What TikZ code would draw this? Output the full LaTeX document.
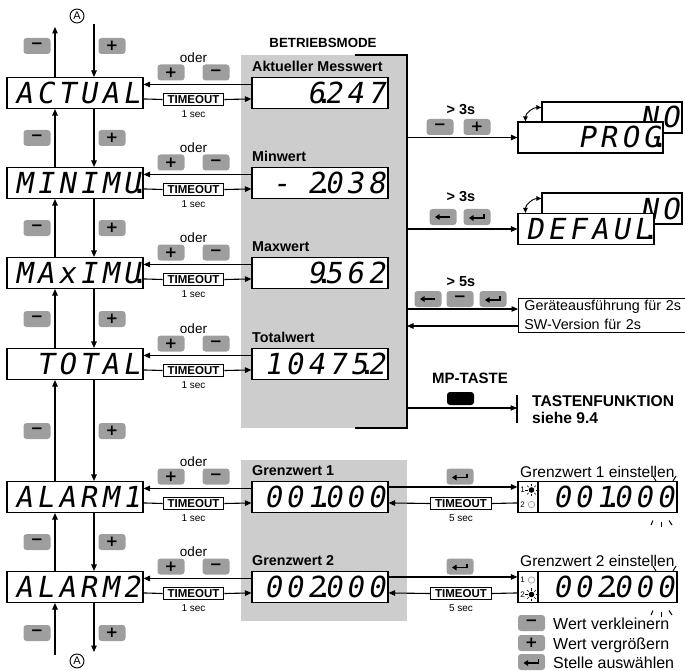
\documentclass[tikz,border=0pt]{standalone}
\usepackage{fontspec}
\setmainfont{Liberation Sans}
\newfontfamily\segfont[LetterSpace=14,FakeSlant=0.18]{DejaVu Sans Mono}
\newfontfamily\symfont{DejaVu Sans}
\usetikzlibrary{arrows.meta}
\definecolor{bggray}{RGB}{205,205,205}
\definecolor{btngray}{RGB}{158,158,158}
\definecolor{ledgray}{RGB}{165,165,165}
\newcommand\segfs{\segfont\fontsize{29}{29}\selectfont}
\newcommand\sdot{\makebox[0pt][c]{\normalfont\bfseries\fontsize{28}{28}\selectfont\kern-1pt.}}
\tikzset{
 arr/.style={line width=1.1pt,-{Triangle[length=6.5pt,width=5.5pt]}},
 conn/.style={line width=1.1pt},
 disp/.style={draw,fill=white,line width=1.1pt,minimum height=31pt,text width=#1,align=right,
   inner xsep=3pt,inner ysep=0pt,text height=21pt,text depth=0pt,font=\segfs},
 disp/.default=130pt,
 btn/.style={fill=btngray,rounded corners=3pt,minimum width=27pt,minimum height=16pt,inner sep=0pt,
   font=\symfont\bfseries\fontsize{15}{15}\selectfont},
 kleft/.style={btn,path picture={
   \draw[line width=1.5pt,-{Triangle[length=4.5pt,width=5.5pt]}]
     ([xshift=7pt]path picture bounding box.center) -- ([xshift=-8pt]path picture bounding box.center);}},
 kenter/.style={btn,path picture={
   \draw[line width=1.5pt,-{Triangle[length=4.5pt,width=5.5pt]}]
     ([xshift=7pt,yshift=-1pt]path picture bounding box.center) -- ([xshift=-8pt,yshift=-1pt]path picture bounding box.center);
   \draw[line width=1.5pt]
     ([xshift=7pt,yshift=-1.75pt]path picture bounding box.center) -- ([xshift=7pt,yshift=3pt]path picture bounding box.center);}},
 tobox/.style={draw,fill=white,line width=0.9pt,inner xsep=4.5pt,inner ysep=1.5pt,
   font=\bfseries\fontsize{11.5}{11.5}\selectfont},
 small/.style={inner sep=0pt,font=\fontsize{10}{10}\selectfont},
 oder/.style={inner sep=0pt,font=\fontsize{13.5}{13.5}\selectfont},
 lbl/.style={anchor=base west,inner sep=0pt,font=\bfseries\fontsize{14.3}{14.3}\selectfont},
 bold/.style={inner sep=0pt,font=\bfseries\fontsize{14.5}{14.5}\selectfont},
 reg/.style={anchor=base west,inner sep=0pt,font=\fontsize{15.5}{15.5}\selectfont},
 leg/.style={anchor=base west,inner sep=0pt,font=\fontsize{16}{16}\selectfont},
 circA/.style={draw,circle,line width=0.9pt,minimum size=14pt,inner sep=0pt,font=\fontsize{11}{11}\selectfont},
 ledbox/.style={draw,fill=white,line width=1.1pt,minimum width=20pt,minimum height=31pt,inner sep=0pt},
 tiny/.style={inner sep=0pt,font=\fontsize{8}{8}\selectfont},
 tick/.style={line width=1pt}
}
\begin{document}
\begin{tikzpicture}[x=1pt,y=-1pt]
\useasboundingbox (0,0) rectangle (685,671);
\clip (0,0) rectangle (685,671);
% grey regions
\fill[bggray] (241,55) rectangle (407,428);
\fill[bggray] (241,460) rectangle (407,621);
\draw[line width=1.7pt] (355,55) -- (407,55) -- (407,428) -- (355,428);
\node[inner sep=0pt,font=\bfseries\fontsize{13.3}{13.3}\selectfont] (bm) at (323,43) {BETRIEBSMODE};
% left displays
\node[disp] (L1) at (75,93) {ACTUAL};
\node[disp] (L2) at (75,183) {MINIMU\sdot};
\node[disp] (L3) at (75,273) {MAxIMU\sdot};
\node[disp] (L4) at (75,364) {TOTAL};
\node[disp] (L5) at (75,497) {ALARM1};
\node[disp] (L6) at (75,587) {ALARM2};
% right displays
\node[disp] (R1) at (320,93) {6\sdot247};
\node[disp] (R2) at (320,183) {-\hphantom{0}2\sdot038};
\node[disp] (R3) at (320,273) {9\sdot562};
\node[disp] (R4) at (320,364) {10475\sdot2};
\node[disp] (R5) at (320,497) {001\sdot000};
\node[disp] (R6) at (320,587) {002\sdot000};
% labels
\node[lbl] (t1) at (252,71.5) {Aktueller Messwert};
\node[lbl] (t2) at (252,161.5) {Minwert};
\node[lbl] (t3) at (252,251.5) {Maxwert};
\node[lbl] (t4) at (252,342.5) {Totalwert};
\node[lbl] (t5) at (252,475.5) {Grenzwert 1};
\node[lbl] (t6) at (252,565.5) {Grenzwert 2};
% per-row connectors
\foreach \n/\y in {1/93,2/183,3/273,4/364,5/497,6/587} {
  \node[tobox] (T\n) at (193.5,\y+6.5) {TIMEOUT};
  \node[small] (S\n) at (193.5,\y+21.5) {1 sec};
  \node[oder] (O\n) at (193.5,\y-35.5) {oder};
  \node[btn] (bp\n) at (171,\y-20.5) {+};
  \node[btn] (bm\n) at (216,\y-20.5) {−};
  \draw[arr] ([yshift=-7.5pt]R\n.north west) -- ([yshift=-7.5pt]L\n.north east);
  \draw[conn] ([yshift=-22pt]L\n.north east) -- (T\n.west);
  \draw[arr] (T\n.east) -- ([yshift=-22pt]R\n.north west);
}
% vertical navigation
\foreach \a/\b in {2/1,3/2,4/3,5/4,6/5} {
  \draw[arr] ([xshift=-20pt]L\a.north) -- ([xshift=-20pt]L\b.south);
  \draw[arr] ([xshift=19pt]L\b.south) -- ([xshift=19pt]L\a.north);
}
\coordinate (TL) at (55,27); \coordinate (TR) at (94,24);
\coordinate (BL) at (55,655); \coordinate (BR) at (94,652);
\draw[arr] ([xshift=-20pt]L1.north) -- (TL);
\draw[arr] (TR) -- ([xshift=19pt]L1.north);
\draw[arr] (BL) -- ([xshift=-20pt]L6.south);
\draw[arr] ([xshift=19pt]L6.south) -- (BR);
\node[circA] (A1) at (77,16) {A};
\node[circA] (A2) at (77,661) {A};
\foreach \i/\y in {0/46,1/138,2/228,3/319,4/431,5/542,6/633} {
  \node[btn] (m\i) at (37,\y) {−};
  \node[btn] (p\i) at (112,\y) {+};
}
% PROG
\node[disp=134pt] (NO1) at (612,117.5) {NO};
\node[disp=139pt] (PROG) at (590.5,137.5) {PROG\sdot};
\draw[line width=0.9pt,{Triangle[length=5pt,width=4.5pt]}-{Triangle[length=5pt,width=4.5pt]}]
  ([xshift=8pt]PROG.north west) to[out=90,in=180] ([yshift=-6pt]NO1.north west);
\coordinate (F1) at (407,137.5);
\draw[arr] (F1) -- (PROG.west);
\node[bold] (g1) at (461,110) {> 3s};
\node[btn] (k11) at (440,127) {−};
\node[btn] (k12) at (477,127) {+};
% DEFAUL
\node[disp=134pt] (NO2) at (612,208.5) {NO};
\node[disp] (DEF) at (586,229) {DEFAUL\sdot};
\draw[line width=0.9pt,{Triangle[length=5pt,width=4.5pt]}-{Triangle[length=5pt,width=4.5pt]}]
  ([xshift=8pt]DEF.north west) to[out=90,in=180] ([yshift=-6pt]NO2.north west);
\coordinate (F2) at (407,229);
\draw[arr] (F2) -- (DEF.west);
\node[bold] (g2) at (461,197) {> 3s};
\node[kleft] (k21) at (443,217) {};
\node[kenter] (k22) at (477,217) {};
% version
\node[bold] (g3) at (461,281.5) {> 5s};
\node[kleft] (k31) at (428,299) {};
\node[btn] (k32) at (460,299) {−};
\node[kenter] (k33) at (493,299) {};
\node[draw,line width=0.9pt,anchor=north west,inner xsep=6pt,inner ysep=2pt,align=left,text width=160pt,
  font=\fontsize{14.3}{19}\selectfont] (GER) at (518,298) {Geräteausführung für 2s\\SW-Version für 2s};
\coordinate (F3) at (407,309);
\coordinate (F4) at (407,326);
\draw[arr] (F3) -- (GER.west |- F3);
\draw[arr] (GER.west |- F4) -- (F4);
% MP-TASTE
\node[inner sep=0pt,font=\bfseries\fontsize{15}{15}\selectfont] (mpt) at (470,378) {MP-TASTE};
\node[fill=black,rounded corners=3pt,minimum width=27pt,minimum height=13pt,inner sep=0pt] (MPB) at (460.5,398.5) {};
\coordinate (F5) at (407,408);
\coordinate (TFc) at (517,408);
\coordinate (TFa) at (517,395);
\coordinate (TFb) at (517,423);
\draw[arr] (F5) -- (TFc);
\draw[line width=1.1pt] (TFa) -- (TFb);
\node[anchor=west,inner sep=0pt,align=left,font=\bfseries\fontsize{15.6}{17}\selectfont] (TF) at (532,410) {TASTENFUNKTION\\siehe 9.4};
% Grenzwert einstellen
\foreach \n/\y/\v in {5/497/001,6/587/002} {
  \node[ledbox] (LED\n) at (528,\y) {};
  \node[disp=133pt] (D\n) at (607.5,\y) {\v\sdot000};
  \node[tiny] (a\n) at (522.5,\y-7) {1};
  \node[tiny] (b\n) at (522.5,\y+7.5) {2};
  \node[kenter] (K\n) at (460,\y-20.5) {};
  \node[tobox] (TT\n) at (461,\y+6.5) {TIMEOUT};
  \node[small] (SS\n) at (461,\y+21) {5 sec};
  \draw[arr] ([yshift=-6pt]R\n.north east) -- ([yshift=-6pt]LED\n.north west);
  \draw[conn] ([yshift=-22pt]LED\n.north west) -- (TT\n.east);
  \draw[arr] (TT\n.west) -- ([yshift=-22pt]R\n.north east);
  % blink ticks
  \draw[tick] (653,\y+23.5) -- (651,\y+28);
  \draw[tick] (661,\y+24.5) -- (661,\y+29.5);
  \draw[tick] (669,\y+23.5) -- (672,\y+28);
  \draw[tick] (656,\y-16) -- (653,\y-21);
  \draw[tick] (673,\y-16) -- (676,\y-21);
}
\node[reg] (ge1) at (520,477) {Grenzwert 1 einstellen};
\node[reg] (ge2) at (520,566) {Grenzwert 2 einstellen};
% LEDs
\fill (531.5,490) circle (2.8pt);
\foreach \a in {0,45,...,315} \draw[line width=0.6pt] (531.5,490) ++(\a:4) -- ++(\a:2.3);
\draw[ledgray,line width=0.7pt] (531.5,504.5) circle (3.2pt);
\draw[ledgray,line width=0.7pt] (531.5,580) circle (3.2pt);
\fill (531.5,594.5) circle (2.8pt);
\foreach \a in {0,45,...,315} \draw[line width=0.6pt] (531.5,594.5) ++(\a:4) -- ++(\a:2.3);
% legend
\node[btn] (lg1) at (531.5,623) {−};
\node[leg] (lt1) at (553,629) {Wert verkleinern};
\node[btn] (lg2) at (531.5,643) {+};
\node[leg] (lt2) at (553,649) {Wert vergrößern};
\node[kenter] (lg3) at (531.5,662) {};
\node[leg] (lt3) at (553,668) {Stelle auswählen};
\end{tikzpicture}
\end{document}
